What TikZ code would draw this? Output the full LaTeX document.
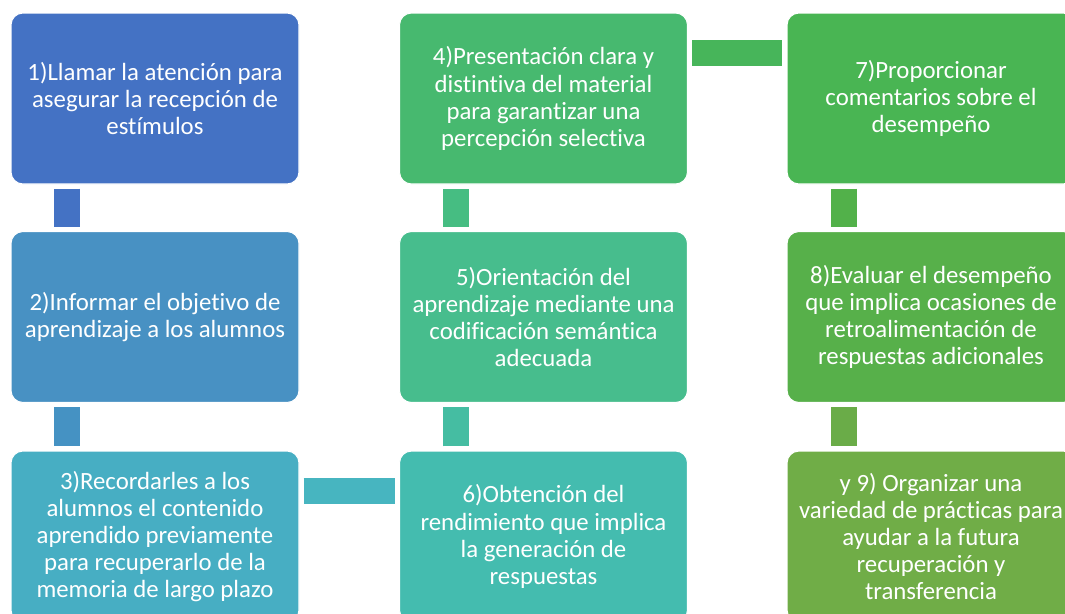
\documentclass[tikz,border=0pt]{standalone}
\usepackage{fontspec}
\setmainfont{Carlito}[Ligatures=NoCommon]
\definecolor{stepA}{HTML}{4472C4}
\definecolor{stepB}{HTML}{4891C3}
\definecolor{stepC}{HTML}{47AEC3}
\definecolor{stepD}{HTML}{47B96F}
\definecolor{stepE}{HTML}{47BD8D}
\definecolor{stepF}{HTML}{44BCAF}
\definecolor{stepG}{HTML}{49B553}
\definecolor{stepH}{HTML}{57B04A}
\definecolor{stepI}{HTML}{70AD47}
\definecolor{linkAB}{HTML}{4472C4}
\definecolor{linkBC}{HTML}{4592C3}
\definecolor{linkCF}{HTML}{47B5C0}
\definecolor{linkFE}{HTML}{45BDA2}
\definecolor{linkED}{HTML}{46BD82}
\definecolor{linkDG}{HTML}{47B55A}
\definecolor{linkGH}{HTML}{52B14A}
\definecolor{linkHI}{HTML}{6AAC48}
\begin{document}
\begin{tikzpicture}[x=0.75pt,y=-0.75pt,
  stage/.style={rounded corners=9pt,draw=white,line width=0.8pt,text=white,align=center,
    minimum width=216pt,minimum height=128.25pt,inner sep=0pt,
    font=\fontsize{18.6}{20.3}\selectfont},
  link/.style={line width=19.5pt,shorten >=3pt,shorten <=3pt}]
  \clip (0,0) rectangle (1065,614);
  \node[stage,fill=stepA] (s1) at (155,98.5) {1)Llamar la atención para\\asegurar la recepción de\\estímulos};
  \node[stage,fill=stepB] (s2) at (155,317) {2)Informar el objetivo de\\aprendizaje a los alumnos};
  \node[stage,fill=stepC] (s3) at (155,536.5) {3)Recordarles a los\\alumnos el contenido\\aprendido previamente\\para recuperarlo de la\\memoria de largo plazo};
  \node[stage,fill=stepD] (s4) at (543.5,98.5) {4)Presentación clara y\\distintiva del material\\para garantizar una\\percepción selectiva};
  \node[stage,fill=stepE] (s5) at (543.5,317) {5)Orientación del\\aprendizaje mediante una\\codificación semántica\\adecuada};
  \node[stage,fill=stepF] (s6) at (543.5,536.5) {6)Obtención del\\rendimiento que implica\\la generación de\\respuestas};
  \node[stage,fill=stepG] (s7) at (931,98.5) {7)Proporcionar\\comentarios sobre el\\desempeño};
  \node[stage,fill=stepH] (s8) at (931,317) {8)Evaluar el desempeño\\que implica ocasiones de\\retroalimentación de\\respuestas adicionales};
  \node[stage,fill=stepI] (s9) at (931,536.5) {y 9) Organizar una\\variedad de prácticas para\\ayudar a la futura\\recuperación y\\transferencia};
  \draw[link,linkAB] ([xshift=42.4pt]s1.south west) -- ([xshift=42.4pt]s2.north west);
  \draw[link,linkBC] ([xshift=42.4pt]s2.south west) -- ([xshift=42.4pt]s3.north west);
  \draw[link,linkCF] ([yshift=-30.4pt]s3.north east) -- ([yshift=-30.4pt]s6.north west);
  \draw[link,linkFE] ([xshift=42.8pt]s6.north west) -- ([xshift=42.8pt]s5.south west);
  \draw[link,linkED] ([xshift=42.8pt]s5.north west) -- ([xshift=42.8pt]s4.south west);
  \draw[link,linkDG] ([yshift=-30.6pt]s4.north east) -- ([yshift=-30.6pt]s7.north west);
  \draw[link,linkGH] ([xshift=43.5pt]s7.south west) -- ([xshift=43.5pt]s8.north west);
  \draw[link,linkHI] ([xshift=43.5pt]s8.south west) -- ([xshift=43.5pt]s9.north west);
\end{tikzpicture}
\end{document}
